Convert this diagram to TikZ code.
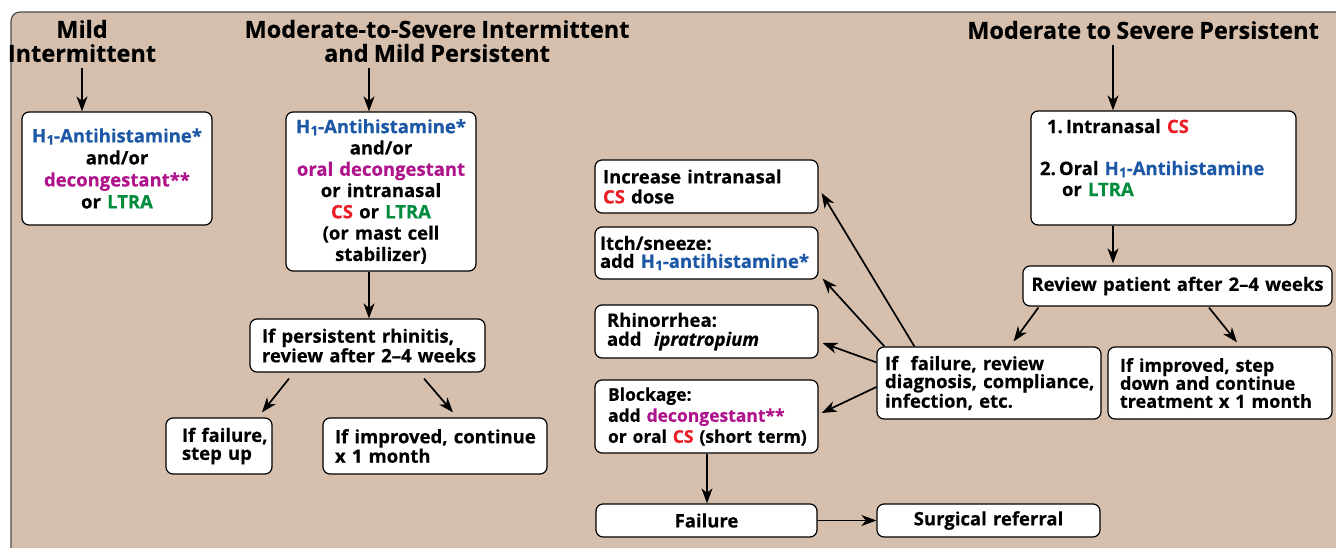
\documentclass[tikz,border=0pt]{standalone}
\usepackage{fontspec}
\setmainfont[WordSpace=0.85,BoldFeatures={FakeBold=0.4},BoldItalicFeatures={FakeBold=0.4}]{Open Sans}
\usetikzlibrary{arrows.meta,calc}
\definecolor{tan}{RGB}{214,192,173}
\definecolor{cblue}{RGB}{28,88,166}
\definecolor{cmag}{RGB}{176,20,140}
\definecolor{cred}{RGB}{237,28,36}
\definecolor{cgreen}{RGB}{0,140,60}
\newcommand\cb{\color{cblue}}
\newcommand\cm{\color{cmag}}
\newcommand\cre{\color{cred}}
\newcommand\cg{\color{cgreen}}
\newcommand\Hone{H\kern0.02em\raisebox{-0.12em}{\scalebox{0.72}{1}}}
\newcommand\fs[1]{\fontsize{18.5}{#1}\selectfont}
\newcommand\oneline[1]{\mbox{#1}}
\hyphenpenalty=10000
\exhyphenpenalty=10000
\begin{document}
\begin{tikzpicture}[x=1pt,y=-1pt,
  bx/.style={draw, fill=white, rounded corners=7pt, line width=1.2pt, inner ysep=0pt, font=\bfseries\fs{18}},
  hdr/.style={font=\bfseries\fontsize{23.5}{24}\selectfont, align=center, inner sep=0pt},
  arr/.style={line width=1.7pt, -{Stealth[length=15pt,width=11pt,inset=4.5pt]}}]
\useasboundingbox (0,0) rectangle (1336,548);
\clip (0,0) rectangle (1336,548);
\draw[fill=tan, draw=black!70, line width=1.2pt, rounded corners=9pt] (11,12) rectangle (1370,580);

% headers
\node[hdr] (hMild) at (82,41) {Mild\\Intermittent};
\node[hdr] (hMod) at (437,41) {Moderate-to-Severe Intermittent\\and Mild Persistent};
\node[hdr] (hSev) at (1143,30) {Moderate to Severe Persistent};

% left column
\node[bx, align=center, text width=184pt, inner xsep=3pt, minimum height=113pt, font=\bfseries\fs{22}] (bMild) at (117,168.5)
  {{\cb \oneline{\Hone-Antihistamine*}}\\and/or\\{\cm decongestant**}\\or {\cg LTRA}};
\node[bx, align=center, text width=184pt, inner xsep=3pt, minimum height=159pt, font=\bfseries\fs{21.3}] (bMod) at (381,191.5)
  {{\cb \oneline{\Hone-Antihistamine*}}\\and/or\\{\cm \oneline{oral decongestant}}\\or intranasal\\{\cre CS} or {\cg LTRA}\\(or mast cell\\stabilizer)};
\node[bx, align=left, text width=211pt, inner xsep=12pt, minimum height=53pt] (bPers) at (367.5,345.5)
  {\oneline{If persistent rhinitis,}\\\oneline{review after 2--4 weeks}};
\node[bx, align=left, text width=74pt, inner xsep=16pt, minimum height=56pt] (bFail) at (219,446)
  {\oneline{If failure,}\\\oneline{step up}};
\node[bx, align=left, text width=200pt, inner xsep=12pt, minimum height=56pt] (bImp) at (435,446)
  {\oneline{If improved, continue}\\\oneline{x 1 month}};

% middle column
\node[bx, align=left, text width=207pt, inner xsep=8pt, minimum height=53pt, font=\bfseries\fs{20}] (bInc) at (706.5,186.5)
  {\oneline{Increase intranasal}\\{\cre CS} dose};
\node[bx, align=left, text width=213pt, inner xsep=5pt, minimum height=52pt] (bItch) at (706.5,253)
  {\oneline{Itch/sneeze:}\\\oneline{add {\cb \Hone-antihistamine*}}};
\node[bx, align=left, text width=199pt, inner xsep=12pt, minimum height=53pt, font=\bfseries\fs{19}] (bRhin) at (706.5,331.5)
  {\oneline{Rhinorrhea:}\\\oneline{add\ \ \textit{ipratropium}}};
\node[bx, align=left, text width=197pt, inner xsep=13pt, minimum height=73pt, font=\bfseries\fontsize{17.5}{21}\selectfont] (bBlock) at (706.5,416.5)
  {\oneline{Blockage:}\\\oneline{add {\cm decongestant**}}\\\oneline{or oral {\cre CS} (short term)}};
\node[bx, align=center, text width=215pt, inner xsep=3pt, minimum height=33pt] (bFailure) at (706.5,520.5) {Failure};
\node[bx, align=center, text width=217pt, inner xsep=3pt, minimum height=33pt] (bSurg) at (988.5,520.5) {Surgical referral};

% right column
\node[bx, align=left, text width=247pt, inner xsep=9pt, minimum height=114pt, font=\bfseries\fs{21}] (bR1) at (1163.5,168)
  {\hspace*{7pt}1.\,Intranasal {\cre CS}\\[21pt]\oneline{2.\,Oral {\cb \Hone-Antihistamine}}\\\hspace*{22pt}or {\cg LTRA}\\\mbox{}};
\node[bx, align=center, text width=303pt, inner xsep=3pt, minimum height=40pt] (bRev) at (1177.5,286)
  {\oneline{Review patient after 2--4 weeks}};
\node[bx, align=left, text width=208pt, inner xsep=8pt, minimum height=72pt] (bFR) at (989,383)
  {\oneline{If\ \ failure, review}\\\oneline{diagnosis, compliance,}\\\oneline{infection, etc.}};
\node[bx, align=left, text width=200pt, inner xsep=12pt, minimum height=72pt, font=\bfseries\fontsize{18}{18}\selectfont] (bSD) at (1220,383)
  {\oneline{If improved, step}\\\oneline{down and continue}\\\oneline{treatment x 1 month}};

% connectors
\draw[arr] ($(hMild.south)+(0,6)$) -- ($(bMild.north)+(-35,0)$);
\coordinate (mEnd) at ($(bMod.north)+(-12,0)$);
\draw[arr] (mEnd |- hMod.south) ++(0,6) -- (mEnd);
\draw[arr] ($(bMod.south)+(-12,0)$) -- ($(bPers.north)+(1.5,0)$);
\draw[arr] ($(bPers.south)+(-78.5,6)$) -- ($(bFail.north)+(43,-5)$);
\draw[arr] ($(bPers.south)+(56.5,6)$) -- ($(bImp.north)+(18,-5)$);

\coordinate (sEnd) at ($(bR1.north)+(-50.5,0)$);
\draw[arr] (sEnd |- hSev.south) ++(0,6) -- (sEnd);
\draw[arr] ($(bR1.south)+(-50.5,0)$) -- ($(bRev.north)+(-64.5,-2)$);
\draw[arr] ($(bRev.south west)+(16,1)$) -- ($(bFR.north east)+(-88,-5)$);
\draw[arr] ($(bRev.south)+(31.5,1)$) -- ($(bSD.north)+(17,-4)$);

\draw[arr] ($(bFR.north west)+(38,0)$) -- ($(bInc.east)+(3,6.5)$);
\draw[arr] ($(bFR.north west)+(8,0)$) -- ($(bItch.south east)+(4,-1)$);
\draw[arr] ($(bFR.north west)+(0,16)$) -- ($(bRhin.east)+(4,11.5)$);
\draw[arr] ($(bFR.west)+(0,4)$) -- ($(bBlock.east)+(3,-3.5)$);

\draw[arr] ($(bBlock.south)+(0.5,0)$) -- ($(bFailure.north)+(0.5,0)$);
\draw[arr] (bFailure.east) -- (bSurg.west);
\end{tikzpicture}
\end{document}
